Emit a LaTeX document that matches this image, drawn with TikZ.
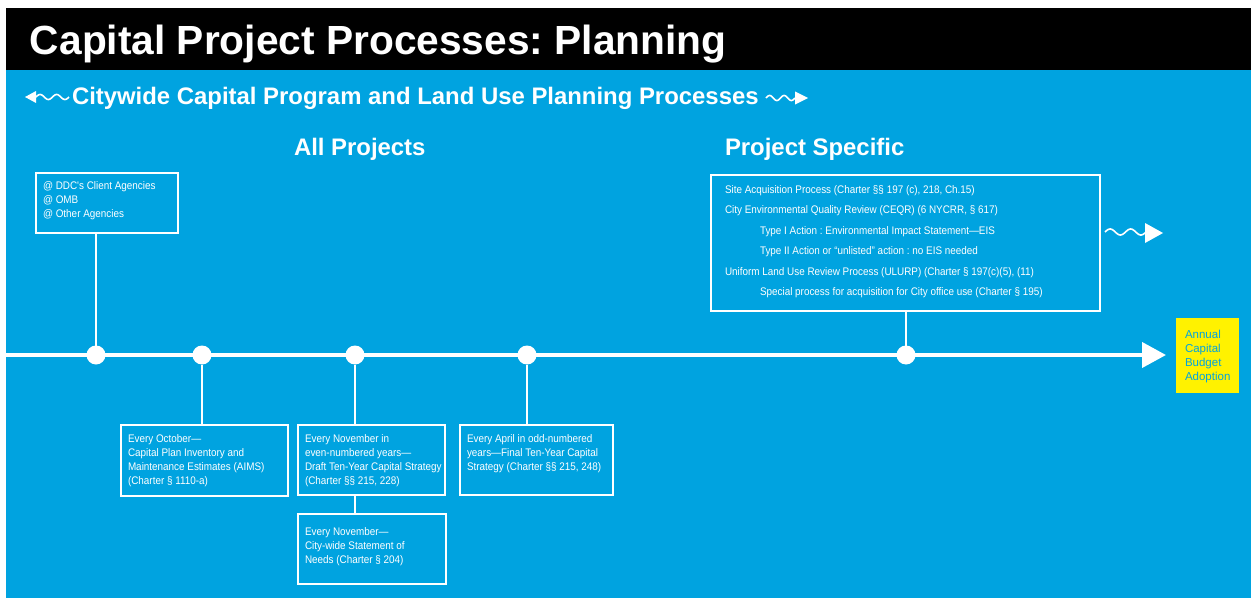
\documentclass[tikz,border=0pt]{standalone}
\usepackage{fontspec}
\setmainfont{Liberation Sans}
\newfontfamily\condfont[FakeStretch=0.9]{Liberation Sans}
\usetikzlibrary{arrows.meta}
\definecolor{planblue}{RGB}{0,163,224}
\definecolor{planyellow}{RGB}{255,242,0}
\newcommand\textlines[1]{\begin{tabular}[t]{@{}l@{}}#1\end{tabular}}
\frenchspacing

\begin{document}
\begin{tikzpicture}[x=1pt,y=-1pt,
  every node/.style={inner sep=0pt, outer sep=0pt},
  link/.style={draw=white, line width=1.8pt},
  frame/.style={draw=white, line width=1.8pt, anchor=north west},
  stop/.style={circle, fill=white, minimum size=19pt},
  notes/.style={anchor=base west, text=white, font=\condfont\fontsize{11}{14}\selectfont},
  heading/.style={anchor=base west, text=white, font=\bfseries\fontsize{23.9}{26}\selectfont},
]
\useasboundingbox (0,0) rectangle (1251,602);
\fill[white] (0,0) rectangle (1251,602);
\fill[planblue] (6,70) rectangle (1251,598);
\fill[black] (6,8) rectangle (1251,70);

% title and section headings
\node[anchor=base west, text=white, font=\bfseries\fontsize{40.7}{44}\selectfont] (title) at (30,55) {Capital Project Processes: Planning};
\node[heading] (citywide) at (72,105) {Citywide Capital Program and Land Use Planning Processes};
\node[heading] (allproj) at (294,155) {All Projects};
\node[heading] (specific) at (725,155) {Project Specific};

% wavy arrows around the subtitle
\fill[white] (25,97) -- (36,91) -- (36,103) -- cycle;
\draw[white, line width=1.6pt] plot[domain=36:69, samples=60] (\x, {97-2.5*sin((\x-36)*360/16.5)});
\draw[white, line width=1.6pt] plot[domain=766:795, samples=60] (\x, {98-2.5*sin((\x-766)*360/14.5)});
\fill[white] (808,98) -- (795,91.5) -- (795,104.5) -- cycle;

% wavy arrow beside the project-specific box
\draw[white, line width=1.6pt] plot[domain=1105:1146, samples=80] (\x, {232-3*sin((\x-1105)*360/20.5)});
\fill[white] (1163,233) -- (1145,223) -- (1145,243) -- cycle;

% timeline
\coordinate (tstart) at (6,355);
\coordinate (tend) at (1166,355);
\draw[white, line width=4pt, -{Triangle[length=24pt,width=25pt]}] (tstart) -- (tend);

\node[stop] (d1) at (96,355) {};
\node[stop] (d2) at (202,355) {};
\node[stop] (d3) at (355,355) {};
\node[stop] (d4) at (527,355) {};
\node[stop] (d5) at (906,355) {};

% annual budget adoption
\node[anchor=north west, fill=planyellow, minimum width=63pt, minimum height=75pt] (budget) at (1176,318) {};
\node[anchor=base west, text=planblue, font=\fontsize{11.5}{14}\selectfont] (budgettext) at (1185,338)
  {\textlines{Annual\\Capital\\Budget\\Adoption}};

% agencies box
\node[frame, minimum width=142pt, minimum height=60pt] (agencies) at (36,173) {};
\node[notes] (agenciestext) at (43,189) {\textlines{@ DDC's Client Agencies\\@ OMB\\@ Other Agencies}};
\draw[link] (d1 |- agencies.south) -- (d1);

% project-specific box
\node[frame, minimum width=389pt, minimum height=136pt] (projspec) at (711,175) {};
\node[notes, font=\condfont\fontsize{11}{20.6}\selectfont] (projspectext) at (725,193) {\textlines{%
  Site Acquisition Process (Charter §§ 197 (c), 218, Ch.15)\\
  City Environmental Quality Review (CEQR) (6 NYCRR, § 617)\\
  \hspace{35pt}Type I Action : Environmental Impact Statement—EIS\\
  \hspace{35pt}Type II Action or “unlisted” action : no EIS needed\\
  Uniform Land Use Review Process (ULURP) (Charter § 197(c)(5), (11)\\
  \hspace{35pt}Special process for acquisition for City office use (Charter § 195)}};
\draw[link] (d5 |- projspec.south) -- (d5);

% October box
\node[frame, minimum width=167pt, minimum height=71pt] (october) at (121,425) {};
\node[notes] (octobertext) at (128,442) {\textlines{Every October—\\Capital Plan Inventory and\\Maintenance Estimates (AIMS)\\(Charter § 1110-a)}};
\draw[link] (d2) -- (d2 |- october.north);

% November draft strategy box
\node[frame, minimum width=147pt, minimum height=70pt] (draft) at (298,425) {};
\node[notes] (drafttext) at (305,442) {\textlines{Every November in\\even-numbered years—\\Draft Ten-Year Capital Strategy\\(Charter §§ 215, 228)}};
\draw[link] (d3) -- (d3 |- draft.north);

% statement of needs box
\node[frame, minimum width=148pt, minimum height=70pt] (needs) at (298,514) {};
\node[notes] (needstext) at (305,535) {\textlines{Every November—\\City-wide Statement of\\Needs (Charter § 204)}};
\draw[link] (d3 |- draft.south) -- (d3 |- needs.north);

% April final strategy box
\node[frame, minimum width=153pt, minimum height=70pt] (april) at (460,425) {};
\node[notes] (apriltext) at (467,442) {\textlines{Every April in odd-numbered\\years—Final Ten-Year Capital\\Strategy (Charter §§ 215, 248)}};
\draw[link] (d4) -- (d4 |- april.north);
\end{tikzpicture}
\end{document}
